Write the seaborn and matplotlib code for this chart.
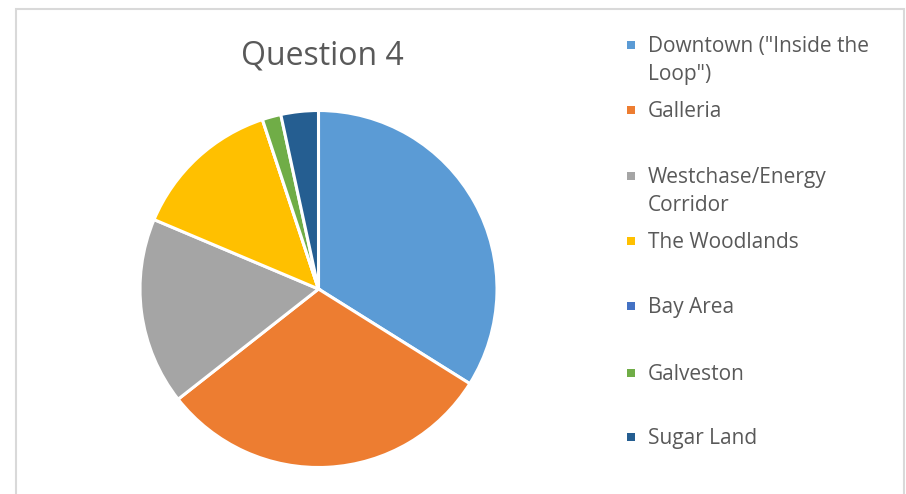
import matplotlib
matplotlib.use("Agg")
import matplotlib.pyplot as plt
import seaborn as sns
from matplotlib.patches import Rectangle

sns.set_theme(style="white")
plt.rcParams['font.family'] = ['Open Sans', 'DejaVu Sans']

categories = ['Downtown ("Inside the\nLoop")', 'Galleria', 'Westchase/Energy\nCorridor',
              'The Woodlands', 'Bay Area', 'Galveston', 'Sugar Land']
values = [20, 18, 10, 8, 0, 1, 2]
colors = ['#5B9BD5', '#ED7D31', '#A5A5A5', '#FFC000', '#4472C4', '#70AD47', '#255E91']
title = 'Question 4'

W, H = 906, 494
fig = plt.figure(figsize=(W / 100, H / 100), dpi=100)
fig.patch.set_facecolor('white')

# outer chart border
fig.add_artist(Rectangle((16 / W, -0.1), (904 - 16) / W, (H - 9) / H + 0.1,
                         transform=fig.transFigure, fill=False,
                         edgecolor='#D9D9D9', linewidth=1.5))

cx, cy, r = 318.5, 289, 178.5
ax = fig.add_axes([(cx - r) / W, (H - cy - r) / H, 2 * r / W, 2 * r / H])
ax.pie(values, colors=colors, startangle=90, counterclock=False, radius=1,
       wedgeprops=dict(edgecolor='white', linewidth=2.2))
ax.set_xlim(-1, 1)
ax.set_ylim(-1, 1)
ax.set_aspect('auto')
ax.axis('off')

fig.text(322 / W, 1 - 56 / H, title, ha='center', va='center',
         fontsize=23, color='#595959')

legend_y = [45, 110, 176, 241, 306, 373, 437]
for lab, col, y in zip(categories, colors, legend_y):
    fig.add_artist(Rectangle(((631 - 4) / W, 1 - (y + 4) / H), 8 / W, 8 / H,
                             transform=fig.transFigure, facecolor=col,
                             edgecolor='none'))
    fig.text(648 / W, 1 - (y - 9) / H, lab, ha='left', va='top',
             fontsize=15, color='#595959', linespacing=1.42)

fig.savefig('out.png', dpi=100, facecolor='white')
